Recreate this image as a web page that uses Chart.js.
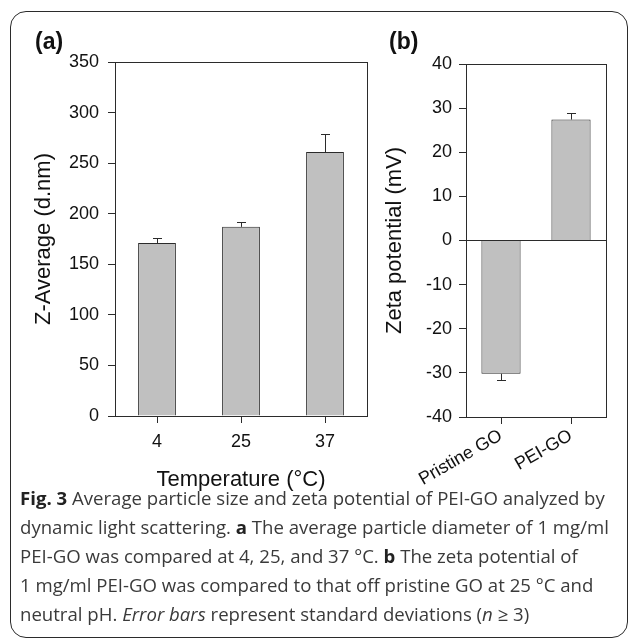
<!DOCTYPE html>
<html>
<head>
<meta charset="utf-8">
<script src="https://cdn.jsdelivr.net/npm/chart.js@4"></script>
<style>
  html, body { margin: 0; padding: 0; background: #fff; }
  #page { position: relative; width: 629px; height: 641px; overflow: hidden; background: #fff; }
  #frame { position: absolute; left: 10px; top: 11px; width: 616px; height: 625px;
           border: 1.5px solid #2b2b2b; border-radius: 16px; }
  .panel { position: absolute; top: 0; }
  .tag { position: absolute; font: bold 23px "Liberation Sans", Arial, sans-serif; color: #111; line-height: 23px; }
  #caption { position: absolute; left: 20px; top: 483px; font-family: "Open Sans", sans-serif;
             font-size: 18.6px; color: #3a3a3a; line-height: 29px; white-space: nowrap; }
  #caption b { color: #222; }
</style>
</head>
<body>
<div id="page">
  <div id="frame"></div>
  <div class="panel" style="left:0;width:372px;height:500px"><canvas id="chartA" width="372" height="500"></canvas></div>
  <div class="panel" style="left:372px;width:257px;height:500px"><canvas id="chartB" width="257" height="500"></canvas></div>
  <div class="tag" style="left:35px;top:30px">(a)</div>
  <div class="tag" style="left:389px;top:30px">(b)</div>
  <div id="caption">
    <div><b>Fig. 3</b> Average particle size and zeta potential of PEI-GO analyzed by</div>
    <div>dynamic light scattering. <b>a</b> The average particle diameter of 1 mg/ml</div>
    <div>PEI-GO was compared at 4, 25, and 37 °C. <b>b</b> The zeta potential of</div>
    <div>1 mg/ml PEI-GO was compared to that off pristine GO at 25 °C and</div>
    <div>neutral pH. <i>Error bars</i> represent standard deviations (<i>n</i> ≥ 3)</div>
  </div>
</div>
<script>
// panel (a): Z-average vs temperature
const tempLabels = ['4', '25', '37'];
const zAverage = [171, 187, 261];
const zAverageErr = [5, 5, 18];
const zAverageTicks = [0, 50, 100, 150, 200, 250, 300, 350];

// panel (b): zeta potential
const zetaLabels = ['Pristine GO', 'PEI-GO'];
const zetaValues = [-30.2, 27.4];
const zetaErr = [1.4, 1.4];
const zetaTicks = [-40, -30, -20, -10, 0, 10, 20, 30, 40];

const ink = '#2b2b2b';
const tickFont = { family: '"Liberation Sans", Arial, sans-serif', size: 18 };
const titleFont = { family: '"Liberation Sans", Arial, sans-serif', size: 22 };

// box around the plot area + one-sided error bars
const boxAndErrors = {
  id: 'boxAndErrors',
  afterDatasetsDraw(chart) {
    const { ctx, chartArea: a } = chart;
    const y = chart.scales.y;
    const ds = chart.data.datasets[0];
    const meta = chart.getDatasetMeta(0);
    ctx.save();
    ctx.strokeStyle = ink;
    ctx.lineWidth = 1;
    meta.data.forEach((bar, i) => {
      const v = ds.data[i];
      const e = ds.errors[i] * (v < 0 ? -1 : 1);
      const x = Math.round(bar.x) + 0.5;
      const y0 = y.getPixelForValue(v);
      const y1 = Math.round(y.getPixelForValue(v + e)) + 0.5;
      ctx.beginPath();
      ctx.moveTo(x, y0);
      ctx.lineTo(x, y1);
      ctx.moveTo(x - 4.5, y1);
      ctx.lineTo(x + 4.5, y1);
      ctx.stroke();
    });
    ctx.strokeRect(Math.round(a.left) + 0.5, Math.round(a.top) + 0.5,
                   Math.round(a.right - a.left), Math.round(a.bottom - a.top));
    ctx.restore();
  }
};

const fixedTicks = list => scale => { scale.ticks = list.map(v => ({ value: v })); };

new Chart(document.getElementById('chartA'), {
  type: 'bar',
  data: {
    labels: tempLabels,
    datasets: [{
      data: zAverage,
      errors: zAverageErr,
      backgroundColor: '#c0c0c0',
      borderColor: ink,
      borderWidth: 1,
      barPercentage: 0.45,
      categoryPercentage: 1
    }]
  },
  options: {
    responsive: false,
    animation: false,
    layout: { padding: { left: 0, top: 62, right: 5, bottom: 0 } },
    plugins: { legend: { display: false }, tooltip: { enabled: false } },
    scales: {
      x: {
        grid: { offset: false, drawOnChartArea: false, tickLength: 7, tickColor: ink },
        border: { color: ink },
        ticks: { color: '#111', font: tickFont, padding: 8, maxRotation: 0 },
        title: { display: true, text: 'Temperature (°C)', color: '#111', font: titleFont, padding: { top: 0, bottom: 7 } },
        afterFit: s => { s.height = 84; }
      },
      y: {
        min: 0, max: 350,
        afterBuildTicks: fixedTicks(zAverageTicks),
        grid: { drawOnChartArea: false, tickLength: 7, tickColor: ink },
        border: { color: ink },
        ticks: { color: '#111', font: tickFont, padding: 9 },
        title: { display: true, text: 'Z-Average (d.nm)', color: '#111', font: titleFont, padding: { top: 31, bottom: 0 } },
        afterFit: s => { s.width = 115; }
      }
    }
  },
  plugins: [boxAndErrors]
});

new Chart(document.getElementById('chartB'), {
  type: 'bar',
  data: {
    labels: zetaLabels,
    datasets: [{
      data: zetaValues,
      errors: zetaErr,
      backgroundColor: '#c0c0c0',
      borderColor: ink,
      borderWidth: 1,
      barPercentage: 0.56,
      categoryPercentage: 1
    }]
  },
  options: {
    responsive: false,
    animation: false,
    layout: { padding: { left: 0, top: 64, right: 23, bottom: 0 } },
    plugins: { legend: { display: false }, tooltip: { enabled: false } },
    scales: {
      x: {
        grid: { offset: false, drawOnChartArea: false, tickLength: 7, tickColor: ink },
        border: { color: ink },
        ticks: { color: '#111', font: tickFont, padding: 1, minRotation: 30, maxRotation: 30, autoSkip: false },
        afterFit: s => { s.height = 83; }
      },
      y: {
        min: -40, max: 40,
        afterBuildTicks: fixedTicks(zetaTicks),
        grid: {
          drawOnChartArea: true,
          color: c => (c.tick && c.tick.value === 0 ? ink : 'rgba(0,0,0,0)'),
          tickLength: 7, tickColor: ink
        },
        border: { color: ink },
        ticks: { color: '#111', font: tickFont, padding: 7 },
        title: { display: true, text: 'Zeta potential (mV)', color: '#111', font: titleFont, padding: { top: 10, bottom: 0 } },
        afterFit: s => { s.width = 94; }
      }
    }
  },
  plugins: [boxAndErrors]
});
</script>
</body>
</html>
